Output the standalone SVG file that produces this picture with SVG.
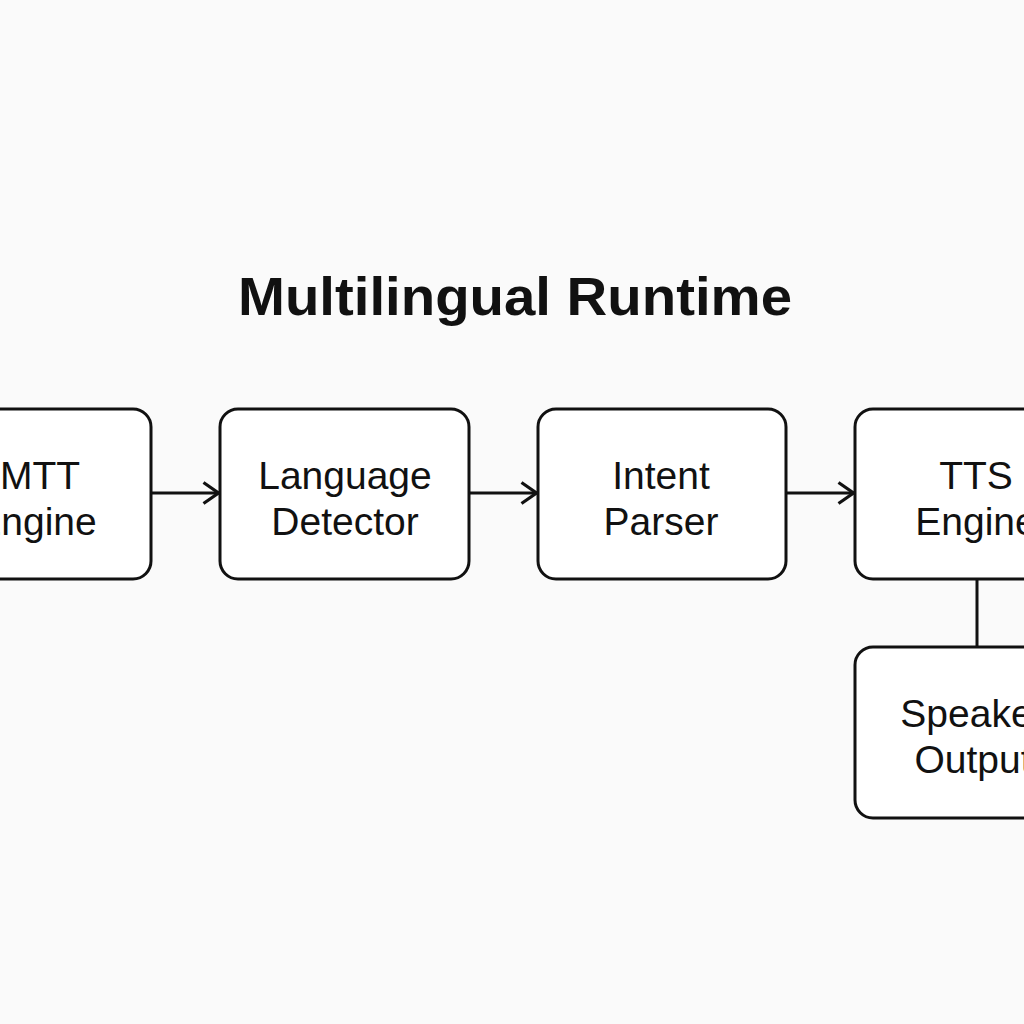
<svg xmlns="http://www.w3.org/2000/svg" width="1024" height="1024" viewBox="0 0 1024 1024">
<defs>
<style>
.box{fill:#ffffff;stroke:#111111;stroke-width:3}
.lbl{font-family:"Liberation Sans",Arial,sans-serif;font-size:39px;fill:#111111;text-anchor:middle}
.title{font-family:"Liberation Sans",Arial,sans-serif;font-size:53px;font-weight:bold;fill:#111111;text-anchor:middle}
.conn{stroke:#111111;stroke-width:3;fill:none}
</style>
<marker id="arr" viewBox="0 0 19 24" refX="17.5" refY="12" markerWidth="19" markerHeight="24" markerUnits="userSpaceOnUse" orient="auto">
<path d="M2,1.5 L17,12 L2,22.5" fill="none" stroke="#111111" stroke-width="3.2"/>
</marker>
</defs>
<rect width="1024" height="1024" fill="#fafafa"/>
<text class="title" x="515" y="315" textLength="554" lengthAdjust="spacingAndGlyphs">Multilingual Runtime</text>
<g id="connectors">
<line class="conn" x1="151" y1="493" x2="219" y2="493" marker-end="url(#arr)"/>
<line class="conn" x1="469" y1="493" x2="537" y2="493" marker-end="url(#arr)"/>
<line class="conn" x1="786" y1="493" x2="854" y2="493" marker-end="url(#arr)"/>
<line class="conn" x1="977" y1="579" x2="977" y2="647"/>
</g>
<g id="stt-engine">
<rect class="box" x="-98" y="409" width="249" height="170" rx="18"/>
<text class="lbl" x="40" y="489">MTT</text>
<text class="lbl" x="36" y="535">Engine</text>
</g>
<g id="language-detector">
<rect class="box" x="220" y="409" width="249" height="170" rx="18"/>
<text class="lbl" x="345" y="489">Language</text>
<text class="lbl" x="345" y="535">Detector</text>
</g>
<g id="intent-parser">
<rect class="box" x="538" y="409" width="248" height="170" rx="18"/>
<text class="lbl" x="661" y="489">Intent</text>
<text class="lbl" x="661" y="535">Parser</text>
</g>
<g id="tts-engine">
<rect class="box" x="855" y="409" width="249" height="170" rx="18"/>
<text class="lbl" x="976" y="489">TTS</text>
<text class="lbl" x="976" y="535">Engine</text>
</g>
<g id="speaker-output">
<rect class="box" x="855" y="647" width="249" height="171" rx="18"/>
<text class="lbl" x="973" y="727">Speaker</text>
<text class="lbl" x="973" y="773">Output</text>
</g>
</svg>
